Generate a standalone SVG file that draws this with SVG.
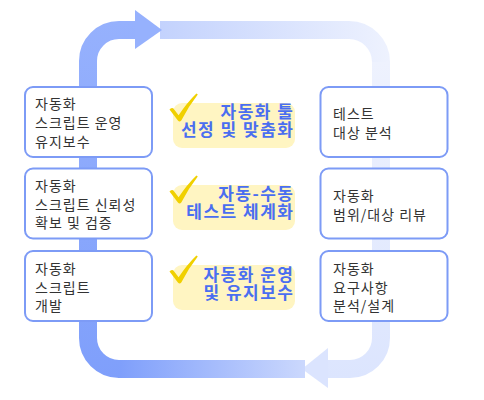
<svg xmlns="http://www.w3.org/2000/svg" width="484" height="400" viewBox="0 0 484 400">
<style>
.box{fill:#ffffff;stroke:#7d9bf6;stroke-width:2}
.bt{font-family:"Noto Sans CJK KR","Noto Sans",sans-serif;font-size:14px;fill:#333333;letter-spacing:1px}
.lbg{fill:#fff5c2}
.lt{font-family:"Noto Sans CJK KR","Noto Sans",sans-serif;font-size:17px;font-weight:bold;fill:#4a6ef0;text-anchor:end;letter-spacing:1.5px}
.chk{fill:#f0d000}
.pipe{fill:none;stroke-width:18}
</style>
<defs>
<linearGradient id="gBot" gradientUnits="userSpaceOnUse" x1="305" y1="0" x2="120" y2="0">
<stop offset="0" stop-color="#cbd8fd"/><stop offset="1" stop-color="#7f9ffb"/>
</linearGradient>
<linearGradient id="gLeft" gradientUnits="userSpaceOnUse" x1="0" y1="378" x2="0" y2="21">
<stop offset="0" stop-color="#7f9ffb"/><stop offset="1" stop-color="#96b1fd"/>
</linearGradient>
<linearGradient id="gTop" gradientUnits="userSpaceOnUse" x1="160" y1="0" x2="390" y2="0">
<stop offset="0" stop-color="#c3d2fd"/><stop offset="1" stop-color="#eef2fe"/>
</linearGradient>
<linearGradient id="gRight" gradientUnits="userSpaceOnUse" x1="0" y1="62" x2="0" y2="378">
<stop offset="0" stop-color="#eef2fe"/><stop offset="1" stop-color="#dce5fe"/>
</linearGradient>
</defs>
<g id="connectors">
<path class="pipe" stroke="url(#gTop)" d="M160 30 H349 A32 32 0 0 1 381 62 V64"/>
<path class="pipe" stroke="url(#gRight)" d="M381 62 V338 A31 31 0 0 1 350 369 H326"/>
<polygon points="328,348 302,369 328,388" fill="#dbe4fe"/>
<path class="pipe" stroke="url(#gBot)" d="M305 369 H118"/>
<path class="pipe" stroke="url(#gLeft)" d="M120 369 H119 A31 31 0 0 1 88 338 V61 A31 31 0 0 1 119 30 H137"/>
<polygon points="135,10 162,30 135,49" fill="#96b1fd"/>
</g>
<g id="node-l1">
<rect class="box" x="25" y="87" width="127" height="70" rx="8"/>
<text class="bt" x="35" y="109">자동화</text>
<text class="bt" x="35" y="128">스크립트 운영</text>
<text class="bt" x="35" y="146.5">유지보수</text>
</g>
<g id="node-l2">
<rect class="box" x="25" y="168.5" width="127" height="70" rx="8"/>
<text class="bt" x="35" y="191">자동화</text>
<text class="bt" x="35" y="209.5">스크립트 신뢰성</text>
<text class="bt" x="35" y="228">확보 및 검증</text>
</g>
<g id="node-l3">
<rect class="box" x="25" y="251" width="127" height="70" rx="8"/>
<text class="bt" x="35" y="274">자동화</text>
<text class="bt" x="35" y="292.5">스크립트</text>
<text class="bt" x="35" y="311">개발</text>
</g>
<g id="node-r1">
<rect class="box" x="320.5" y="87" width="127" height="70" rx="8"/>
<text class="bt" x="333" y="119">테스트</text>
<text class="bt" x="333" y="137.5">대상 분석</text>
</g>
<g id="node-r2">
<rect class="box" x="320.5" y="168.5" width="127" height="70" rx="8"/>
<text class="bt" x="333" y="201">자동화</text>
<text class="bt" x="333" y="219.5">범위/대상 리뷰</text>
</g>
<g id="node-r3">
<rect class="box" x="320.5" y="251" width="127" height="70" rx="8"/>
<text class="bt" x="333" y="274">자동화</text>
<text class="bt" x="333" y="292.5">요구사항</text>
<text class="bt" x="333" y="311">분석/설계</text>
</g>
<g id="label-1">
<rect class="lbg" x="173" y="103" width="122" height="45" rx="9"/>
<path class="chk" d="M169.5 109.5 Q171 107.3 173.2 108.2 L178.6 115.2 Q187 102.5 196.4 93.4 L197.8 94.6 Q188.5 106.5 181.3 120.6 Q179.6 122.4 177.9 120.6 Z"/>
<text class="lt" x="294.5" y="117.5">자동화 툴</text>
<text class="lt" x="294.5" y="135.5">선정 및 맞춤화</text>
</g>
<g id="label-2">
<rect class="lbg" x="173" y="185" width="122" height="45" rx="9"/>
<path class="chk" d="M169.5 191.5 Q171 189.3 173.2 190.2 L178.6 197.2 Q187 184.5 196.4 175.4 L197.8 176.6 Q188.5 188.5 181.3 202.6 Q179.6 204.4 177.9 202.6 Z"/>
<text class="lt" x="294.5" y="199.5">자동-수동</text>
<text class="lt" x="294.5" y="217.5">테스트 체계화</text>
</g>
<g id="label-3">
<rect class="lbg" x="173" y="265" width="122" height="45" rx="9"/>
<path class="chk" d="M169.5 271.5 Q171 269.3 173.2 270.2 L178.6 277.2 Q187 264.5 196.4 255.4 L197.8 256.6 Q188.5 268.5 181.3 282.6 Q179.6 284.4 177.9 282.6 Z"/>
<text class="lt" x="294.5" y="280.5">자동화 운영</text>
<text class="lt" x="294.5" y="298.5">및 유지보수</text>
</g>
</svg>
